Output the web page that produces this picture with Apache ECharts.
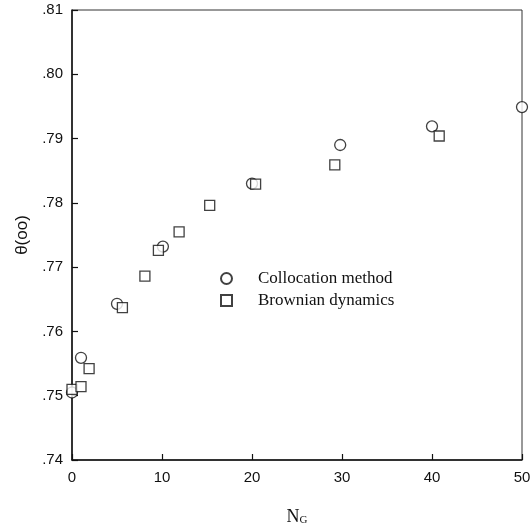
<!DOCTYPE html>
<html>
<head>
<meta charset="utf-8">
<script src="https://cdn.jsdelivr.net/npm/echarts@6/dist/echarts.min.js"></script>
<style>
  html, body { margin: 0; padding: 0; background: #fff; }
  #chart { width: 532px; height: 525px; }
</style>
</head>
<body>
<div id="chart"></div>
<script>
// Orientation parameter θ(∞) versus N_G from two methods
const collocationNG = [0, 1, 5, 10.1, 20, 29.8, 40, 50];
const collocationTheta = [0.7505, 0.7559, 0.7643, 0.7732, 0.7830, 0.7890, 0.7919, 0.7949];

const brownianNG = [0, 1, 1.9, 5.6, 8.1, 9.6, 11.9, 15.3, 20.4, 29.2, 40.8];
const brownianTheta = [0.7510, 0.7514, 0.7542, 0.7637, 0.7686, 0.7726, 0.7755, 0.7796, 0.7829, 0.7859, 0.7904];

const xTicks = { min: 0, max: 50, step: 10 };
const yTicks = { min: 0.74, max: 0.81, step: 0.01 };

const pairs = (xs, ys) => xs.map((x, i) => [x, ys[i]]);

const chart = echarts.init(document.getElementById('chart'), null, { renderer: 'canvas' });

const sansFont = 'Liberation Sans';
const serifFont = 'Liberation Serif';

chart.setOption({
  animation: false,
  backgroundColor: '#fff',
  grid: {
    left: 72, right: 10, top: 10, bottom: 65,
    outerBoundsMode: 'none',
    containLabel: false,
    show: true, borderColor: '#333', borderWidth: 1, backgroundColor: 'transparent'
  },
  legend: {
    orient: 'vertical',
    left: 215, top: 265,
    itemWidth: 11, itemHeight: 11,
    itemGap: 5,
    textStyle: {
      fontFamily: serifFont, fontSize: 17, lineHeight: 17, color: '#111',
      padding: [0, 0, 0, 21]
    },
    data: [
      { name: 'Collocation method', icon: 'circle' },
      { name: 'Brownian dynamics', icon: 'rect' }
    ]
  },
  xAxis: {
    type: 'value',
    min: xTicks.min, max: xTicks.max, interval: xTicks.step,
    name: '{n|N}{s|G}',
    nameLocation: 'middle',
    nameGap: 48,
    nameTextStyle: {
      rich: {
        n: { fontFamily: serifFont, fontSize: 18, color: '#111' },
        s: { fontFamily: serifFont, fontSize: 11, color: '#111', verticalAlign: 'bottom', padding: [7, 0, 0, 0] }
      }
    },
    axisLine: { show: true, lineStyle: { color: '#111', width: 1.5 } },
    axisTick: { show: true, inside: true, length: 6, lineStyle: { color: '#111', width: 1.2 } },
    axisLabel: { fontFamily: sansFont, fontSize: 15, color: '#111', margin: 10 },
    splitLine: { show: false }
  },
  yAxis: {
    type: 'value',
    min: yTicks.min, max: yTicks.max, interval: yTicks.step,
    name: 'θ(oo)',
    nameLocation: 'middle',
    nameGap: 37,
    nameRotate: 90,
    nameTextStyle: { fontFamily: sansFont, fontSize: 17, color: '#111' },
    axisLine: { show: true, lineStyle: { color: '#111', width: 1.5 } },
    axisTick: { show: true, inside: true, length: 6, lineStyle: { color: '#111', width: 1.2 } },
    axisLabel: {
      fontFamily: sansFont, fontSize: 15, color: '#111', margin: 9,
      formatter: v => v.toFixed(2).replace(/^0/, '')
    },
    splitLine: { show: false }
  },
  series: [
    {
      name: 'Collocation method',
      type: 'scatter',
      symbol: 'circle',
      symbolSize: 11,
      z: 2,
      itemStyle: { color: '#fff', borderColor: '#111', borderWidth: 1.3 },
      data: pairs(collocationNG, collocationTheta)
    },
    {
      name: 'Brownian dynamics',
      type: 'scatter',
      symbol: 'rect',
      symbolSize: 10,
      z: 3,
      itemStyle: { color: '#fff', borderColor: '#111', borderWidth: 1.3 },
      data: pairs(brownianNG, brownianTheta)
    }
  ]
});
</script>
</body>
</html>
